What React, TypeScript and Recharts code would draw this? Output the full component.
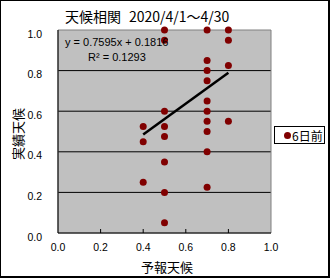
import {
  CartesianGrid,
  ReferenceArea,
  Scatter,
  ScatterChart,
  XAxis,
  YAxis,
} from "recharts";

// 予報天候 (x) and 実績天候 (y), one entry per day
const forecast = [
  0.4, 0.4, 0.4,
  0.5, 0.5, 0.5, 0.5, 0.5, 0.5, 0.5, 0.5,
  0.7, 0.7, 0.7, 0.7, 0.7, 0.7, 0.7, 0.7, 0.7, 0.7,
  0.8, 0.8, 0.8, 0.8,
];
const actual = [
  0.525, 0.45, 0.25,
  1.0, 0.95, 0.6, 0.525, 0.475, 0.35, 0.2, 0.05,
  1.0, 0.85, 0.8, 0.75, 0.65, 0.6, 0.55, 0.5, 0.4, 0.225,
  1.0, 0.95, 0.825, 0.55,
];

// linear trendline endpoints (y = 0.7595x + 0.1816)
const trendX = [0.4, 0.8];
const trendY = [0.4854, 0.7892];

const axisTicks = [0, 0.2, 0.4, 0.6, 0.8, 1.0];
const gridValues = [0.2, 0.4, 0.6, 0.8];

const points = forecast.map((x, i) => ({ x, y: actual[i] }));
const trend = trendX.map((x, i) => ({ x, y: trendY[i] }));

const tickFont = "'Liberation Sans', Arial, sans-serif";
const jpFont = "'Noto Sans CJK JP', sans-serif";

function XTick({ x, y, payload }: any) {
  const v = payload.value as number;
  return (
    <g>
      {v > 0 && v < 1 && (
        <line x1={x} x2={x} y1={y} y2={y - 4} stroke="#000" />
      )}
      <text
        x={x}
        y={y + 17.5}
        textAnchor="middle"
        fontSize={10.5}
        fontFamily={tickFont}
        fill="#000"
      >
        {v.toFixed(1)}
      </text>
    </g>
  );
}

function YTick({ x, y, payload }: any) {
  const v = payload.value as number;
  return (
    <text
      x={x - 16}
      y={y + 7.5}
      textAnchor="end"
      fontSize={10.5}
      fontFamily={tickFont}
      fill="#000"
    >
      {v.toFixed(1)}
    </text>
  );
}

export default function App() {
  return (
    <div
      style={{
        position: "absolute",
        left: 0,
        top: 0,
        width: 330,
        height: 278,
        background: "#fff",
      }}
    >
      <ScatterChart
        width={330}
        height={278}
        margin={{ top: 30, right: 59, bottom: 0, left: 0 }}
      >
        <CartesianGrid
          fill="#c0c0c0"
          stroke="#000"
          vertical={false}
          horizontalValues={gridValues}
        />
        <ReferenceArea
          x1={0}
          x2={1}
          y1={0}
          y2={1}
          fill="none"
          stroke="#808080"
          fillOpacity={0}
        />
        <XAxis
          type="number"
          dataKey="x"
          domain={[0, 1]}
          ticks={axisTicks}
          height={45}
          tickSize={0}
          tickMargin={0}
          axisLine={{ stroke: "#000" }}
          tickLine={false}
          tick={<XTick />}
          interval={0}
        />
        <YAxis
          type="number"
          dataKey="y"
          domain={[0, 1]}
          ticks={axisTicks}
          width={58}
          tickSize={0}
          tickMargin={0}
          axisLine={{ stroke: "#000" }}
          tickLine={false}
          tick={<YTick />}
          interval={0}
        />
        <Scatter
          name="6日前"
          data={points}
          isAnimationActive={false}
          shape={(p: any) => (
            <circle cx={p.cx} cy={p.cy} r={3.5} fill="#800000" />
          )}
        />
        <Scatter
          data={trend}
          isAnimationActive={false}
          legendType="none"
          line={{ stroke: "#000", strokeWidth: 2.5 }}
          shape={() => <g />}
        />
      </ScatterChart>

      {/* title */}
      <div
        style={{
          position: "absolute",
          left: 65,
          top: 6,
          fontFamily: jpFont,
          fontSize: 14,
          lineHeight: "20px",
          whiteSpace: "nowrap",
        }}
      >
        天候相関<span style={{ marginLeft: 8 }}>2020/4/1～4/30</span>
      </div>

      {/* trendline equation */}
      <div
        style={{
          position: "absolute",
          left: 65,
          top: 35,
          fontFamily: tickFont,
          fontSize: 11,
          lineHeight: "15px",
          whiteSpace: "nowrap",
        }}
      >
        y = 0.7595x + 0.1816
      </div>
      <div
        style={{
          position: "absolute",
          left: 88,
          top: 50,
          fontFamily: tickFont,
          fontSize: 11,
          lineHeight: "15px",
          whiteSpace: "nowrap",
        }}
      >
        R² = 0.1293
      </div>

      {/* axis titles */}
      <div
        style={{
          position: "absolute",
          left: 141,
          top: 258,
          width: 52,
          textAlign: "center",
          fontFamily: jpFont,
          fontSize: 13,
          lineHeight: "18px",
          whiteSpace: "nowrap",
        }}
      >
        予報天候
      </div>
      <div
        style={{
          position: "absolute",
          left: 18,
          top: 134,
          transform: "translate(-50%, -50%) rotate(-90deg)",
          fontFamily: jpFont,
          fontSize: 13,
          lineHeight: "18px",
          whiteSpace: "nowrap",
        }}
      >
        実績天候
      </div>

      {/* legend */}
      <div
        style={{
          position: "absolute",
          left: 274,
          top: 126,
          width: 51,
          height: 18,
          boxSizing: "border-box",
          border: "1px solid #000",
          display: "flex",
          alignItems: "center",
          paddingLeft: 9,
          fontFamily: jpFont,
          fontSize: 12,
          whiteSpace: "nowrap",
        }}
      >
        <span
          style={{
            display: "inline-block",
            width: 7,
            height: 7,
            borderRadius: "50%",
            background: "#800000",
            marginRight: 1,
          }}
        />
        6日前
      </div>

      {/* outer frame */}
      <div
        style={{
          position: "absolute",
          inset: 0,
          boxSizing: "border-box",
          borderTop: "1px solid #000",
          borderLeft: "1px solid #000",
          borderRight: "2px solid #000",
          borderBottom: "2px solid #000",
          pointerEvents: "none",
        }}
      />
    </div>
  );
}
